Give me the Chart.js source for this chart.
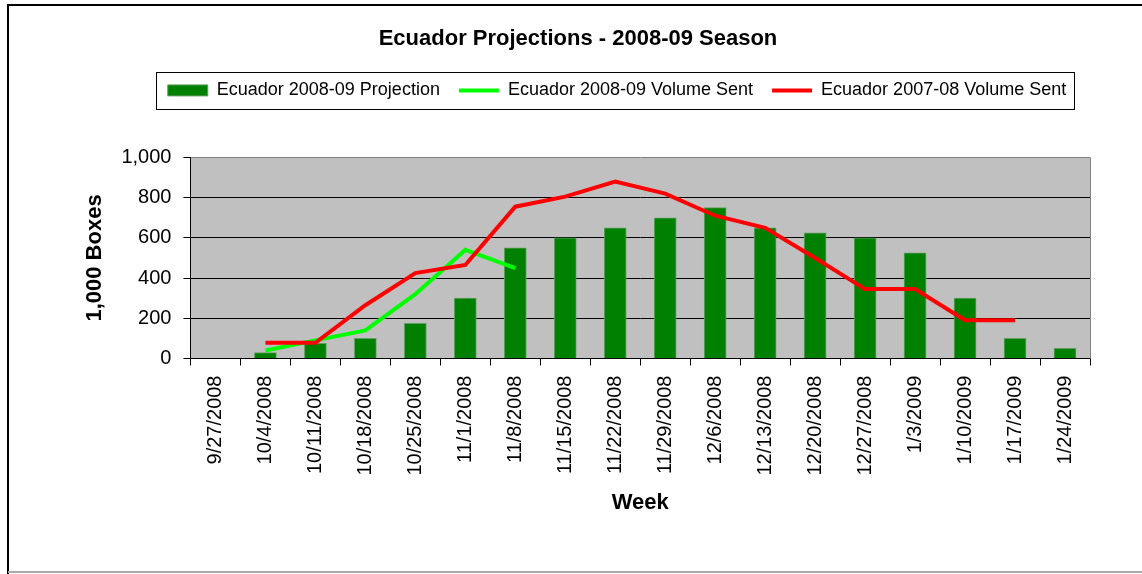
<!DOCTYPE html>
<html>
<head>
<meta charset="utf-8">
<script src="https://cdn.jsdelivr.net/npm/chart.js@4.4.1/dist/chart.umd.min.js"></script>
<style>
  html, body { margin: 0; padding: 0; background: #fff; }
  #wrap { width: 1142px; height: 574px; }
</style>
</head>
<body>
<div id="wrap"><canvas id="grafico"></canvas></div>
<script>
// semanas (eixo x)
const semanas = ['9/27/2008', '10/4/2008', '10/11/2008', '10/18/2008', '10/25/2008', '11/1/2008',
  '11/8/2008', '11/15/2008', '11/22/2008', '11/29/2008', '12/6/2008', '12/13/2008',
  '12/20/2008', '12/27/2008', '1/3/2009', '1/10/2009', '1/17/2009', '1/24/2009'];

// projeção 2008-09 (barras), em 1.000 caixas
const projecao0809 = [0, 30, 75, 100, 175, 300, 550, 600, 650, 700, 750, 650, 625, 600, 525, 300, 100, 50];

// volume enviado 2008-09 (linha verde)
const enviado0809 = [null, 40, 90, 140, 320, 540, 450, null, null, null, null, null, null, null, null, null, null, null];

// volume enviado 2007-08 (linha vermelha)
const enviado0708 = [null, 78, 78, 265, 425, 465, 755, 805, 880, 820, 710, 650, 500, 345, 345, 190, 190, null];

const yTicks = [0, 200, 400, 600, 800, 1000];

Chart.defaults.font.family = 'Arial, "Liberation Sans", sans-serif';
Chart.defaults.color = '#000';

const LEG_PAD = 19;
const LEG_FONT = 18;

// fundo cinza da área do gráfico + moldura + caixa da legenda
const moldura = {
  id: 'moldura',
  beforeUpdate(chart) {
    const lg = chart.legend;
    if (lg && !lg._alto) {
      const fitOrig = lg.fit.bind(lg);
      lg.fit = function () { fitOrig(); this.height += 48; };
      lg._alto = true;
    }
  },
  afterLayout(chart) {
    // legenda um pouco à direita e título um pouco à esquerda, como no original
    chart.legend.left += 31;
    chart.legend.right += 31;
    chart.titleBlock.left -= 8;
    chart.titleBlock.right -= 8;
  },
  beforeDraw(chart) {
    const ctx = chart.ctx;
    const a = chart.chartArea;
    ctx.save();
    ctx.fillStyle = '#fff';
    ctx.fillRect(0, 0, chart.width, chart.height);
    ctx.strokeStyle = '#000';
    ctx.lineWidth = 2;
    ctx.beginPath();
    ctx.moveTo(8, chart.height);
    ctx.lineTo(8, 5);
    ctx.lineTo(chart.width, 5);
    ctx.stroke();
    ctx.strokeStyle = '#aaa';
    ctx.beginPath();
    ctx.moveTo(8, 572);
    ctx.lineTo(chart.width, 572);
    ctx.stroke();
    ctx.fillStyle = '#c0c0c0';
    ctx.fillRect(a.left, a.top, a.right - a.left, a.bottom - a.top);
    ctx.restore();
  },
  afterDraw(chart) {
    const ctx = chart.ctx;
    const a = chart.chartArea;
    ctx.save();
    ctx.strokeStyle = '#808080';
    ctx.lineWidth = 1;
    ctx.beginPath();
    ctx.moveTo(a.right + 0.5, a.top);
    ctx.lineTo(a.right + 0.5, a.bottom);
    ctx.stroke();
    const lg = chart.legend;
    const w = lg.lineWidths[0];
    const x0 = (lg.left + LEG_PAD + lg.right - w) / 2;
    const x1 = x0 + w - LEG_PAD;
    const yc = lg.top + LEG_PAD + LEG_FONT / 2;
    ctx.strokeStyle = '#000';
    ctx.strokeRect(Math.round(x0 - 12) + 0.5, Math.round(yc - 18) + 0.5, Math.round(x1 - x0 + 20), 37);
    ctx.restore();
  }
};

new Chart(document.getElementById('grafico'), {
  type: 'bar',
  data: {
    labels: semanas,
    datasets: [{
      label: 'Ecuador 2008-09 Projection',
      data: projecao0809,
      backgroundColor: '#008000',
      borderColor: '#5f9f5f',
      borderWidth: 1,
      barThickness: 22,
      pointStyle: 'rect',
      order: 3
    }, {
      type: 'line',
      label: 'Ecuador 2008-09 Volume Sent',
      data: enviado0809,
      borderColor: '#00ff00',
      backgroundColor: '#00ff00',
      borderWidth: 4,
      pointRadius: 0,
      pointStyle: 'line',
      tension: 0,
      order: 2
    }, {
      type: 'line',
      label: 'Ecuador 2007-08 Volume Sent',
      data: enviado0708,
      borderColor: '#ff0000',
      backgroundColor: '#ff0000',
      borderWidth: 4,
      pointRadius: 0,
      pointStyle: 'line',
      tension: 0,
      order: 1
    }]
  },
  options: {
    responsive: true,
    maintainAspectRatio: false,
    animation: false,
    layout: { padding: { top: 10, left: 82, right: 52, bottom: 58 } },
    plugins: {
      title: {
        display: true,
        text: 'Ecuador Projections - 2008-09 Season',
        font: { size: 22, weight: 'bold' },
        color: '#000',
        padding: { top: 16, bottom: 10 }
      },
      legend: {
        position: 'top',
        labels: {
          usePointStyle: true,
          pointStyleWidth: 40,
          boxHeight: 11,
          padding: LEG_PAD,
          font: { size: LEG_FONT },
          color: '#000',
          sort: (a, b) => a.datasetIndex - b.datasetIndex
        }
      },
      tooltip: { enabled: false }
    },
    scales: {
      x: {
        offset: true,
        grid: { offset: true, drawOnChartArea: false, tickLength: 7, tickColor: '#000' },
        border: { color: '#000' },
        ticks: { maxRotation: 90, minRotation: 90, padding: 10, font: { size: 20 }, color: '#000', autoSkip: false },
        title: { display: true, text: 'Week', font: { size: 22, weight: 'bold' }, color: '#000', padding: { top: 4, bottom: 0 } }
      },
      y: {
        min: 0,
        max: 1000,
        afterBuildTicks: (axis) => { axis.ticks = yTicks.map(v => ({ value: v })); },
        grid: {
          color: (c) => c.tick && c.tick.value === 1000 ? '#808080' : '#000',
          tickColor: '#000',
          tickLength: 7
        },
        border: { color: '#000' },
        ticks: { padding: 12, font: { size: 20 }, color: '#000' },
        title: { display: true, text: '1,000 Boxes', font: { size: 22, weight: 'bold' }, color: '#000', padding: { top: 0, bottom: 1 } }
      }
    }
  },
  plugins: [moldura]
});
</script>
</body>
</html>
